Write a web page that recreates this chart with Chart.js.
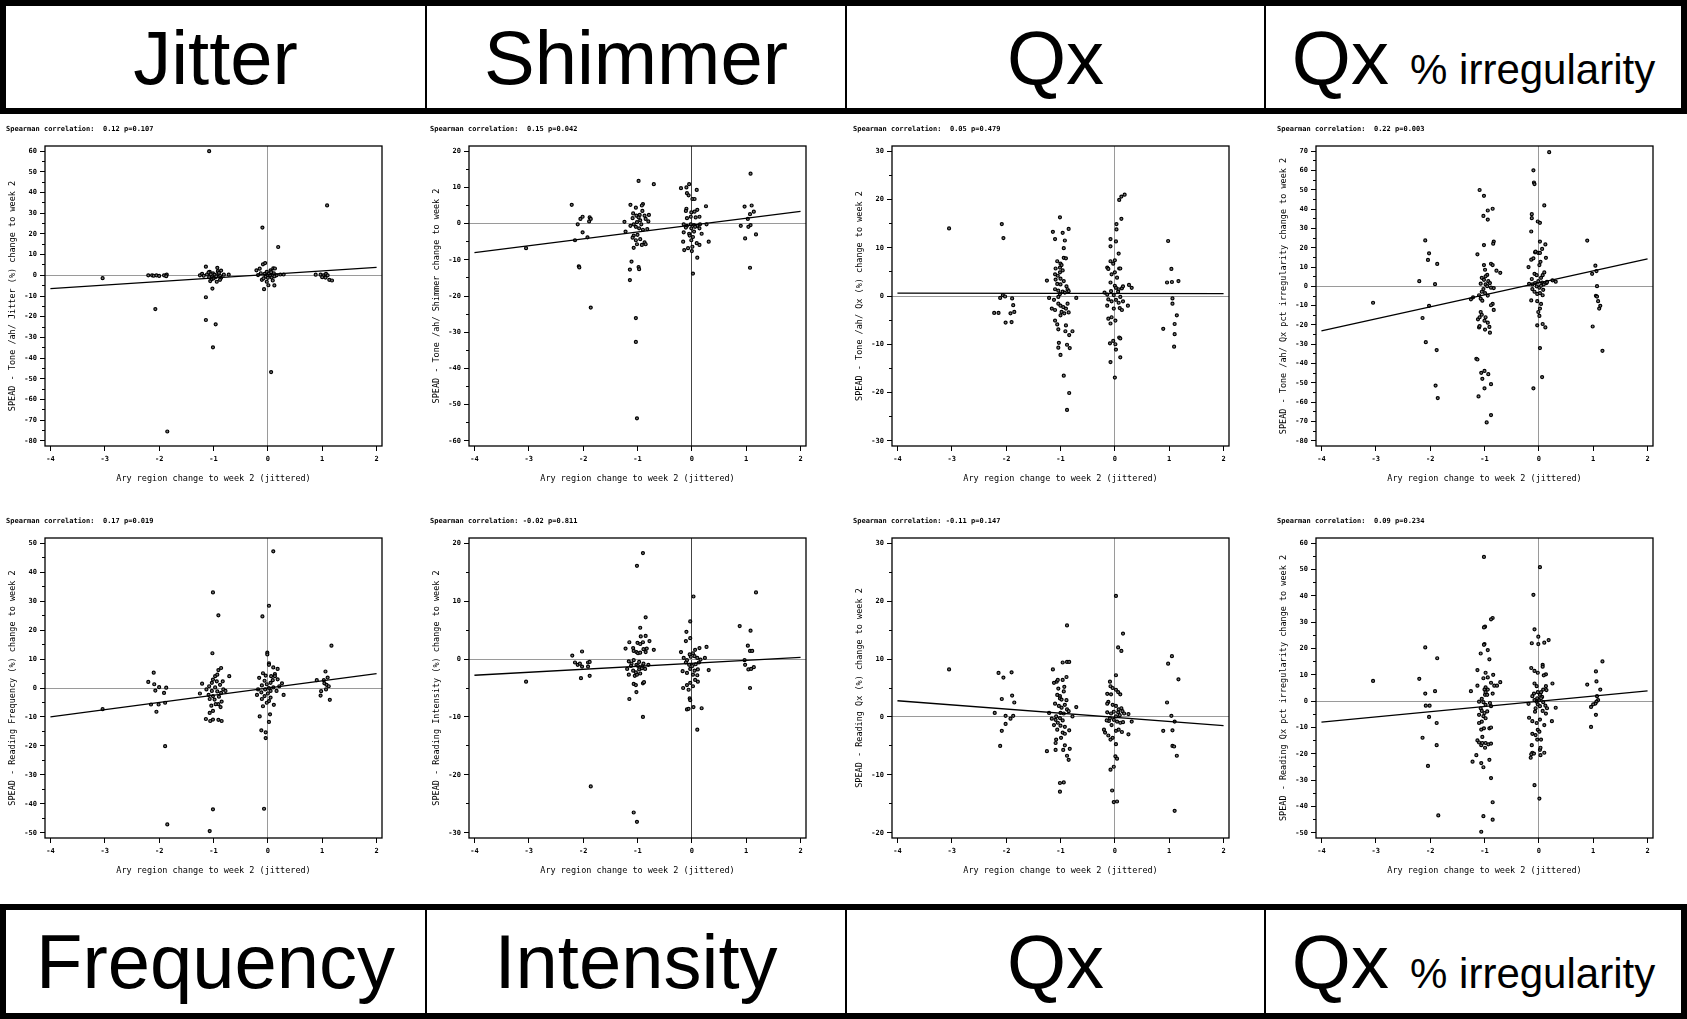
<!DOCTYPE html>
<html>
<head>
<meta charset="utf-8">
<script src="https://cdn.jsdelivr.net/npm/chart.js@4.4.1/dist/chart.umd.min.js"></script>
<style>
  html, body { margin: 0; padding: 0; background: #fff; }
  body { width: 1687px; height: 1019px; position: relative; overflow: hidden; }
  .band { position: absolute; left: 0; width: 1687px; box-sizing: border-box; border: 6px solid #000; display: flex; }
  .cell { box-sizing: border-box; height: 100%; display: flex; align-items: center; justify-content: center;
          font-family: "Liberation Sans", Arial, sans-serif; font-size: 76px; color: #000; white-space: nowrap; }
  .cell + .cell { border-left: 2px solid #000; }
  .small { font-size: 42px; }
  canvas { position: absolute; }
</style>
</head>
<body>
<div class="band" style="top:0;height:114px">
  <div class="cell" style="width:419px">Jitter</div>
  <div class="cell" style="width:420px">Shimmer</div>
  <div class="cell" style="width:419px">Qx</div>
  <div class="cell" style="flex:1"><span>Qx <span class="small">% irregularity</span></span></div>
</div>
<div class="band" style="top:904px;height:115px">
  <div class="cell" style="width:419px">Frequency</div>
  <div class="cell" style="width:420px">Intensity</div>
  <div class="cell" style="width:419px">Qx</div>
  <div class="cell" style="flex:1"><span>Qx <span class="small">% irregularity</span></span></div>
</div>

<canvas id="c0" width="420" height="372"></canvas>
<canvas id="c1" width="420" height="372"></canvas>
<canvas id="c2" width="420" height="372"></canvas>
<canvas id="c3" width="420" height="372"></canvas>
<canvas id="c4" width="420" height="372"></canvas>
<canvas id="c5" width="420" height="372"></canvas>
<canvas id="c6" width="420" height="372"></canvas>
<canvas id="c7" width="420" height="372"></canvas>

<script>
const MONO = '"DejaVu Sans Mono", "Liberation Mono", monospace';

// x axis is shared by all eight panels
const xTicks = [-4, -3, -2, -1, 0, 1, 2];
const xTitle = 'Ary region change to week 2 (jittered)';

// ---- Tone /ah/ Jitter ----
const jitterTicks = [-80, -70, -60, -50, -40, -30, -20, -10, 0, 10, 20, 30, 40, 50, 60];
const jitterFit = [-6.4, 3.8];
const jitterPts = [
  [-1.08,60],[1.09,33.8],[-0.10,23.1],[0.19,13.7],[-3.04,-1.4],[-2.07,-16.3],[-1.14,-10.6],[-1.14,-21.6],
  [-0.96,-23.7],[-1.01,-34.8],[0.06,-46.8],[-1.85,-75.5],[-1.02,-6.4],[-0.07,-6.7],[0.12,-4.9],
  [-2.2,0],[-2.13,0],[-2.1,-0.2],[-2.05,0],[-2.0,-0.3],[-1.91,0],[-1.86,0.3],[-1.87,-0.4],
  [-1.25,0],[-1.21,0.7],[-1.14,4.2],[-0.93,3.6],[-0.86,2.3],[-0.92,2],[-1.07,1.7],[-1.01,0.9],[-1.12,0.4],
  [-1.03,-0.2],[-0.97,-0.9],[-0.88,-0.2],[-0.81,0.3],[-0.72,0.3],[-1.06,-2.8],[-0.94,-3.1],[-1.03,-1.8],
  [-0.86,-1.2],[-1.08,-0.9],[-0.98,0.3],[-0.91,0.7],[-1.18,-0.2],[-1.09,1.4],[-0.88,-2.2],[-1.05,0.5],
  [-0.95,-0.5],[-1.0,-1.5],[-0.9,1.2],
  [-0.21,2.4],[-0.15,3.2],[-0.09,5.3],[-0.05,5.9],[-0.13,1.0],[-0.02,1.7],[0.05,2.4],[0.10,3.4],[0.13,3.3],
  [0.04,0],[-0.04,-0.6],[-0.11,-2.2],[-0.02,-3.1],[0.01,-4.8],[0.07,-1.1],[0.16,0],[0.23,0.4],[0.29,0.4],
  [0,-1.2],[0.11,1],[-0.06,0.7],[-0.18,0.1],[0.09,-2.5],[0.02,0.8],[-0.08,-1.5],[0.12,-0.5],[0.06,1.5],
  [0.88,0.3],[0.97,0.3],[1.02,0],[1.07,0.7],[1.10,0],[1.06,-1.1],[1.13,-2.2],[1.18,-2.5],[1.0,-0.9]
];

// ---- Tone /ah/ Shimmer ----
const shimmerTicks = [-60, -50, -40, -30, -20, -10, 0, 10, 20];
const shimmerFit = [-8.0, 3.4];
const shimmerPts = [
  [-0.98,11.8],[-0.70,10.9],[1.08,13.8],[-2.21,5.2],[-3.05,-6.8],[-1.86,-23.2],[-1.03,-26.1],[-1.03,-32.7],
  [-1.01,-53.8],[-2.08,-11.8],[-2.07,-12.1],[-1.14,-15.6],[-1.14,-12.7],[-1.11,-10.5],[-0.98,-12],[-0.97,-12.6],
  [1.07,-12.2],[0.02,-13.8],[0.10,-9.4],[-2.15,-4.6],[-1.92,-3.8],[-2.01,-2.4],[-2.10,-0.2],[-2.05,1.3],
  [-2.01,1.9],[-1.89,0.6],[-1.88,1.7],[-1.86,1.3],
  [-1.13,5.2],[-1.03,4.4],[-0.90,5.4],[-0.92,5.0],[-1.08,2.8],[-1.02,2.2],[-0.96,2.4],[-0.91,3.5],[-0.87,2.2],
  [-0.79,2.4],[-0.85,1.3],[-1.09,1.5],[-0.95,0.9],[-1.01,0.4],[-1.07,-0.2],[-1.13,-0.6],[-1.03,-0.9],[-0.97,-1.3],
  [-0.90,-1.7],[-0.82,-1.5],[-1.22,-2.2],[-1.07,-3.3],[-1.0,-3.1],[-1.09,-3.9],[-1.03,-4.6],[-0.95,-4.3],
  [-0.87,-5.2],[-1.01,-5.7],[-0.92,-5.9],[-0.85,-5.7],[-1.07,-6.7],[-1.24,0.5],[-0.80,0.6],[-0.93,-0.2],[-0.98,1.7],
  [-0.20,9.8],[-0.10,10.0],[-0.05,10.9],[-0.09,8.4],[-0.06,7.8],[0.09,9.3],[0.01,6.8],[0.05,6.8],[-0.10,4.1],
  [-0.11,3.5],[0.10,3.8],[0.26,4.8],[-0.01,3.1],[0.05,3.3],[-0.09,1.5],[-0.02,1.9],[0.07,1.7],[0.14,1.9],
  [-0.15,-0.2],[-0.09,-0.6],[-0.02,-0.2],[0.04,-0.4],[0.10,-0.6],[0.15,-0.2],[-0.11,-1.1],[-0.01,-1.3],
  [0.06,-0.9],[0.14,-1.3],[-0.15,-2.4],[-0.05,-2.8],[0.04,-2.2],[0.18,-2.8],[-0.04,-3.3],[0.02,-3.7],
  [-0.16,-5.0],[-0.01,-4.6],[0.09,-5.4],[0.14,-5.9],[0.31,-5.0],[0.27,-0.2],[-0.14,-7.3],[-0.07,-6.8],
  [0,-7.6],[0.01,-6.4],
  [0.97,4.7],[1.10,5.0],[1.14,3.3],[1.07,2.6],[1.03,1.3],[0.90,-0.6],[1.08,-0.4],[1.04,-0.9],[1.18,-3.0],[0.98,-4.1]
];

// ---- Tone /ah/ Qx ----
const toneQxTicks = [-30, -20, -10, 0, 10, 20, 30];
const toneQxFit = [0.6, 0.5];
const toneQxPts = [
  [-3.05,14.0],[-2.08,14.9],[-2.05,12.0],[-2.11,-0.4],[-2.06,0.2],[-2.02,-0.1],[-2.22,-3.5],[-2.14,-3.5],
  [-2.01,-5.5],[-1.92,-3.6],[-1.85,-3.3],[-1.90,-5.4],[-1.89,-0.5],[-1.87,-1.9],
  [-1.01,16.3],[-1.14,13.3],[-0.96,13.1],[-0.85,13.9],[-1.10,11.8],[-0.92,11.5],[-0.94,9.9],[-0.94,7.9],
  [-0.90,7.8],[-1.06,7.2],[-1.0,6.7],[-0.98,6.4],[-1.01,5.9],[-1.09,5.7],[-0.96,5.3],[-1.01,4.9],[-1.10,4.5],
  [-1.05,4.2],[-1.0,3.6],[-1.25,3.2],[-1.09,3.4],[-0.94,3.1],[-1.06,2.5],[-1.0,2.4],[-0.89,2.0],[-0.87,1.4],
  [-1.04,1.1],[-0.96,0.9],[-0.92,0.7],[-1.01,0.4],[-1.10,1.4],[-0.85,1.0],[-1.21,-0.4],[-1.12,-0.8],
  [-1.04,-0.2],[-0.87,-1.6],[-0.71,-0.4],[-1.04,-1.6],[-1.0,-2.0],[-0.95,-2.3],[-0.90,-2.6],[-0.98,-3.3],
  [-1.10,-2.9],[-1.16,-2.6],[-1.0,-4.0],[-0.93,-3.6],[-0.85,-3.4],[-1.10,-5.1],[-1.06,-5.9],[-1.04,-6.9],
  [-0.90,-6.1],[-0.91,-7.3],[-0.78,-7.3],[-0.84,-8.1],[-1.03,-9.7],[-1.04,-10.7],[-1.0,-12.2],[-0.88,-10.1],
  [-0.83,-10.8],[-0.94,-16.5],[-0.84,-20.1],[-0.88,-23.6],
  [0.18,21.0],[0.12,20.6],[0.08,19.9],[0.12,16.0],[0.03,14.9],[0.03,13.8],[-0.08,11.8],[0.02,11.3],
  [-0.08,10.3],[0.07,8.8],[-0.08,7.2],[0,7.4],[-0.03,6.7],[-0.14,5.9],[-0.12,5.6],[0.08,5.7],[0.10,5.7],
  [0,4.9],[-0.06,4.5],[0.04,3.8],[-0.08,2.8],[0,2.1],[0.02,1.7],[0.07,1.4],[0.13,1.6],[0.15,2.0],[0.26,2.3],
  [0.31,1.7],[-0.19,0.7],[-0.14,0.3],[-0.07,1.0],[-0.02,0.2],[0.06,0.9],[0.10,-0.2],[-0.12,-0.7],[-0.06,-1.1],
  [0.02,-0.8],[0.07,-1.4],[0.15,-1.1],[-0.14,-2.0],[-0.02,-2.6],[0.09,-2.5],[0.13,-2.9],[0.24,-2.0],
  [-0.12,-4.7],[-0.06,-4.4],[0.01,-5.1],[-0.08,-5.7],[-0.03,-9.3],[0.01,-10.0],[-0.09,-9.8],[0.08,-8.6],
  [0.10,-8.8],[0.02,-11.1],[0.10,-12.7],[-0.08,-13.7],[0,-16.9],
  [0.98,11.4],[1.04,5.6],[0.96,2.8],[1.05,2.9],[1.17,3.1],[1.06,-0.5],[1.06,-1.6],[1.14,-4.0],[1.10,-5.8],
  [0.89,-6.8],[1.10,-7.9],[1.09,-10.5]
];

// ---- Tone /ah/ Qx pct irregularity ----
const toneIrrTicks = [-80, -70, -60, -50, -40, -30, -20, -10, 0, 10, 20, 30, 40, 50, 60, 70];
const toneIrrFit = [-23.1, 14.2];
const toneIrrPts = [
  [0.19,69.5],[-0.10,60.1],[-0.09,53.8],[-0.08,53.0],[0.10,41.9],[-1.09,49.9],[-1.01,46.9],[-1.02,36.5],
  [-0.94,39.3],[-0.85,40.2],[-0.94,34.6],[-0.13,37.4],[-0.13,35.3],[-0.02,33.6],[0.02,32.9],[-0.14,28.4],
  [0.89,23.7],[-2.09,23.8],[-2.02,17.1],[-2.04,13.7],[-1.87,11.6],[-2.20,2.7],[-1.91,1.1],[-3.05,-8.5],
  [-2.02,-10.1],[-2.14,-16.4],[-2.08,-28.9],[-1.88,-33.0],[-1.90,-51.4],[-1.86,-57.9],
  [-1.15,-37.5],[-1.13,-37.9],[-1.06,-44.8],[-1.0,-43.8],[-0.93,-45.5],[-1.04,-47.9],[-0.88,-50.7],
  [-1.0,-52.8],[-1.11,-57.0],[-0.88,-66.7],[-0.96,-70.5],
  [-1.01,21.4],[-0.83,23.2],[-0.84,22.1],[-1.13,16.6],[-1.01,11.0],[-0.88,11.7],[-0.85,11.0],[-0.99,8.6],
  [-0.78,8.1],[-0.71,7.0],[-0.95,5.9],[-0.98,5.2],[-1.05,4.4],[-1.01,3.4],[-0.93,2.7],[-0.90,1.7],[-0.98,1.0],
  [-0.95,0.1],[-1.07,1.4],[-0.88,-0.7],[-0.83,-0.9],[-1.02,-1.4],[-1.05,-2.8],[-0.99,-3.5],[-1.10,-4.6],
  [-0.94,-4.8],[-1.25,-6.7],[-1.21,-5.7],[-1.07,-6.4],[-1.04,-7.4],[-0.85,-9.1],[-0.88,-9.8],[-0.83,-12.2],
  [-1.07,-13.3],[-1.05,-14.7],[-0.98,-16.0],[-1.0,-17.8],[-0.94,-18.8],[-1.12,-17.1],[-1.09,-16.0],
  [-1.10,-21.3],[-1.09,-20.6],[-0.99,-22.4],[-0.91,-21.0],[-0.90,-24.0],
  [-0.19,10.0],[-0.14,13.8],[-0.10,14.5],[-0.07,17.6],[-0.06,18.0],[-0.01,17.3],[0.02,17.3],[0.03,12.7],
  [0.01,11.0],[0.02,23.2],[0.06,19.4],[0.12,21.7],[0.13,14.8],[-0.08,6.5],[-0.04,5.8],[0.07,5.8],[0.10,7.2],
  [-0.13,3.8],[-0.07,1.7],[-0.01,2.7],[-0.18,1.3],[-0.12,1.0],[0.04,4.4],[0.06,2.0],[0.09,1.0],[0.14,1.7],
  [0.15,2.3],[0.25,3.1],[0.31,2.4],[-0.04,0],[0.01,-0.7],[0.04,0.3],[0.08,-1.8],[-0.12,-1.4],[-0.08,-2.8],
  [-0.03,-3.9],[0.02,-3.5],[0.07,-4.6],[-0.14,-7.3],[-0.03,-7.7],[0.04,-9.1],[0.02,-11.5],[-0.01,-13.3],
  [0.01,-15.3],[-0.03,-20.2],[0.07,-19.5],[0.12,-21.3],[0.02,-32.0],[0.06,-47.0],[-0.10,-52.8],
  [1.04,10.7],[1.06,7.9],[0.98,6.5],[1.07,0.1],[1.05,-4.9],[1.07,-5.3],[1.09,-7.7],[1.13,-10.1],[1.11,-11.5],
  [0.99,-20.8],[1.17,-33.4]
];

// ---- Reading Frequency ----
const freqTicks = [-50, -40, -30, -20, -10, 0, 10, 20, 30, 40, 50];
const freqFit = [-10.0, 5.0];
const freqPts = [
  [0.10,47.2],[-1.01,33.0],[-0.91,25.1],[0.02,28.4],[-0.10,24.7],[1.17,14.6],[-1.02,12.0],[-0.01,12.2],
  [-0.01,11.6],[-1.89,-20.1],[-1.01,-41.9],[-0.07,-41.7],[-1.85,-47.1],[-1.07,-49.4],[-0.04,-17.3],
  [-0.12,-14.6],[-0.04,-15.3],[0.02,-11.7],[-0.15,-9.8],[0.04,-9.1],
  [-1.14,-10.7],[-1.06,-11.4],[-1.01,-10.9],[-0.91,-11.0],[-0.85,-11.4],[-1.07,-8.6],[-1.01,-7.9],
  [-3.04,-7.3],[-2.05,-8.2],[-2.15,-5.7],[-2.01,-5.7],[-1.89,-5.1],[-2.10,5.3],[-2.20,2.1],[-2.09,1.3],
  [-2.07,-0.9],[-2.0,0.3],[-1.91,-1.7],[-1.87,0.1],
  [-1.21,1.5],[-1.25,-1.9],[-1.08,0.6],[-1.03,1.8],[-1.01,2.9],[-0.97,4.1],[-0.93,4.6],[-0.91,6.2],[-0.86,6.9],
  [-0.94,2.3],[-0.88,1.1],[-0.97,0.2],[-1.03,-1.0],[-1.09,-2.4],[-1.01,-2.8],[-0.93,-1.2],[-0.86,-1.7],
  [-0.82,-0.5],[-0.90,-3.0],[-1.07,-3.8],[-0.98,-4.0],[-0.91,-5.6],[-0.85,-4.7],[-1.13,-0.5],[-0.83,2.3],
  [-0.71,4.1],[-0.78,-1.0],[-0.96,-5.6],[-1.04,-6.1],[-0.87,-6.6],
  [-0.09,5.1],[-0.04,4.3],[-0.16,3.5],[-0.06,2.5],[0.02,8.5],[0.02,8.0],[0.10,7.1],[0.18,6.6],[0.13,4.8],
  [0.06,4.1],[0.13,4.1],[0.26,1.6],[0.21,0.6],[0.05,1.8],[-0.02,1.3],[-0.11,0.9],[-0.20,-2.4],[-0.12,-1.5],
  [-0.05,-0.5],[0.02,0],[0.10,0.2],[0.16,-1.0],[0.0,-1.9],[-0.06,-2.8],[0.05,-3.3],[-0.02,-5.1],[-0.09,-6.3],
  [0.02,-4.5],[0.11,-5.8],[0.29,-2.4],[0.05,-1.0],[-0.18,-0.5],[0.09,2.7],[0.18,3.0],[-0.11,-3.8],
  [0.90,2.7],[1.06,5.7],[1.10,3.6],[1.03,2.7],[1.04,1.6],[1.08,1.1],[1.12,0.6],[1.07,-0.5],[0.98,-1.1],
  [0.97,-2.6],[1.14,-4.1]
];

// ---- Reading Intensity ----
const intensTicks = [-30, -20, -10, 0, 10, 20];
const intensFit = [-2.8, 0.3];
const intensPts = [
  [-0.90,18.3],[-1.01,16.1],[1.18,11.5],[0.03,10.8],[-0.85,7.2],[-0.03,6.5],[0.88,5.7],[-0.95,5.4],[1.08,4.9],
  [-0.10,4.7],[-0.85,4.0],[-0.94,3.9],[-0.03,3.6],[-0.78,3.1],[-0.11,3.1],[-1.15,2.9],[-1.0,2.8],[-0.95,2.6],
  [-0.90,2.9],[-1.22,1.8],[-1.08,1.9],[-1.07,1.4],[-1.02,1.2],[-0.99,1.0],[-0.95,1.1],[-0.89,1.7],[-0.83,1.8],
  [-0.85,1.2],[-0.70,1.6],
  [-2.20,0.6],[-2.02,1.3],[-2.15,-0.6],[-2.10,-1.0],[-2.06,-0.8],[-2.02,-1.3],[-1.91,-0.6],[-1.88,-0.5],
  [-1.91,-1.3],[-2.04,-3.3],[-1.88,-2.9],[-3.05,-3.9],[-1.86,-22.0],[-1.07,-26.5],[-1.01,-28.1],[-0.90,-10.0],
  [-1.15,-6.9],[-1.02,-5.7],[-1.07,-4.3],[-1.03,-4.5],[-0.90,-4.2],[-0.88,-4.0],
  [-1.16,-2.7],[-1.05,-2.9],[-1.01,-2.7],[-0.95,-2.5],[-1.08,-2.0],[-0.97,-1.8],[-0.91,-1.2],[-0.86,-1.7],
  [-1.02,-1.0],[-1.11,-0.8],[-1.16,-0.4],[-1.07,-0.2],[-0.97,-0.5],[-0.89,-0.8],[-0.80,-1.0],[-1.19,-1.7],
  [-1.12,-1.2],[-0.99,-1.2],[-0.92,-1.6],[-1.03,-2.3],
  [-0.20,1.2],[0.06,1.6],[0.14,1.9],[0.27,2.1],[0.24,0.2],[-0.15,0.2],[-0.09,-0.2],[-0.02,0.4],[0.05,0.5],
  [0.10,0.2],[0.16,-0.1],[0.02,1.0],[-0.04,0.8],[-0.11,-0.6],[-0.05,-1.0],[0.01,-1.2],[0.07,-0.9],[0.13,-0.6],
  [-0.03,-1.7],[0.05,-2.0],[0.11,-1.8],[-0.09,-2.4],[-0.17,-2.1],[0.02,-2.7],[0.10,-2.8],[0.31,-1.9],
  [-0.16,-5.0],[-0.09,-4.5],[-0.03,-4.1],[0.06,-3.6],[0.11,-3.9],[0.02,-4.7],[-0.06,-5.3],[-0.04,-6.8],
  [-0.03,-7.1],[-0.09,-8.7],[-0.06,-8.6],[0.03,-8.3],[0.18,-8.5],[0.10,-12.2],
  [1.03,2.3],[1.07,1.4],[1.11,1.4],[0.97,-0.2],[0.98,-1.0],[1.04,-1.8],[1.09,-1.7],[1.14,-1.4],[1.07,-5.0]
];

// ---- Reading Qx ----
const readQxTicks = [-20, -10, 0, 10, 20, 30];
const readQxFit = [2.8, -1.5];
const readQxPts = [
  [0.02,20.9],[-0.88,15.8],[0.15,14.4],[0.06,12.0],[0.12,11.4],[1.05,10.5],[0.98,9.2],[-0.96,9.4],[-0.88,9.5],
  [-0.84,9.5],[-3.05,8.2],[-1.14,8.2],[-2.14,7.6],[-1.90,7.7],[-2.05,6.8],[1.17,6.5],[-0.89,6.9],[-0.96,6.4],
  [0.02,7.2],[-1.12,5.9],[-1.07,6.1],[-1.05,6.4],[-0.09,6.1],[-0.08,5.3],[-0.04,5.0],[0.02,4.7],
  [-0.93,5.2],[-0.94,4.4],[-1.04,4.9],[-1.06,3.8],[-1.01,3.6],[-1.01,3.2],[-0.98,3.0],[-0.14,4.0],[-0.07,3.9],
  [0.06,4.3],[0.10,3.9],[-2.08,3.1],[-1.89,3.7],[-1.85,2.5],[0.96,2.5],[-0.89,2.9],
  [-1.10,2.3],[-1.03,1.9],[-0.98,1.6],[-0.92,2.1],[-0.88,1.3],[-0.85,1.0],[-0.94,0.6],[-1.00,0.7],[-1.08,0.1],
  [-1.01,-0.2],[-0.96,-0.6],[-1.09,-0.5],[-1.16,-0.3],[-1.21,0.7],[-1.05,-1.0],[-1.00,-1.5],[-0.92,-1.7],
  [-0.84,-2.3],[-1.12,-1.4],[-1.06,-2.2],[-0.96,-2.7],[-0.92,-2.9],[-1.08,-3.9],[-0.99,-3.6],[-1.09,-4.5],
  [-0.92,-4.9],[-0.83,-5.5],[-0.88,-6.7],[-0.85,-7.4],[-0.95,-5.7],[-1.09,-5.7],[-1.25,-5.9],[-0.71,1.7],
  [-0.78,0.1],[-1.01,-11.4],[-0.94,-11.3],[-1.01,-12.9],
  [-2.21,0.7],[-2.01,0.2],[-1.87,0.2],[-1.92,-0.3],[-2.01,-1.2],[-2.08,-2.4],[-2.11,-5.0],
  [-0.12,2.6],[-0.14,2.3],[-0.04,2.1],[0.02,1.9],[0.07,1.3],[0.12,1.5],[0.14,1.0],[0.06,0.8],[-0.02,0.9],
  [-0.07,0.6],[-0.14,0.8],[0.02,0.1],[0.09,0.3],[0.17,0.6],[0.25,0.5],[-0.09,-0.2],[-0.02,-0.5],[0.04,-0.8],
  [0.10,-1.0],[0.15,-0.9],[-0.06,-1.4],[-0.11,-0.7],[-0.20,-2.2],[-0.18,-2.7],[-0.12,-3.2],[-0.04,-3.6],
  [0.02,-2.4],[0.07,-2.2],[0.25,-3.0],[0.31,-0.8],[-0.08,-3.9],[0.02,-4.7],[0.01,-6.8],[0.04,-7.2],
  [-0.02,-8.6],[-0.08,-9.1],[-0.05,-12.7],[-0.02,-14.7],[0.04,-14.6],[-0.15,-0.6],[0.13,-2.6],
  [1.04,0.2],[1.10,-0.8],[0.89,-2.4],[1.06,-2.3],[1.06,-5.0],[1.09,-5.1],[1.14,-6.7],[1.10,-16.2]
];

// ---- Reading Qx pct irregularity ----
const readIrrTicks = [-50, -40, -30, -20, -10, 0, 10, 20, 30, 40, 50, 60];
const readIrrFit = [-8.0, 3.9];
const readIrrPts = [
  [-1.01,54.8],[0.02,50.9],[-0.10,40.4],[-0.85,31.6],[-0.88,31.1],[-0.99,28.3],[-1.01,28.0],[-0.08,27.3],
  [-0.01,24.5],[0.18,23.2],[-0.13,22.0],[-0.01,21.7],[0.10,22.2],[-1.0,21.7],[-1.01,21.4],[-2.09,20.4],
  [-0.94,19.4],[-1.87,16.3],[-1.07,18.1],[-0.91,15.9],[1.17,15.1],[0.07,13.8],[0.07,13.1],[-0.14,12.6],
  [-1.13,11.8],[1.05,11.3],[-0.08,11.5],[-0.98,10.8],[-0.84,10.0],[0.13,10.2],[0.09,9.8],[-2.20,8.5],
  [-1.02,8.7],[-0.02,10.8],[-0.94,9.0],[-0.71,7.2],[1.06,7.5],[0.89,6.3],[-0.88,7.0],[-0.82,5.9],[-0.77,5.9],
  [0.25,6.7],[-1.13,5.9],[-0.98,5.2],[-0.94,4.4],[-1.00,4.4],[-0.98,3.4],[-0.99,2.4],[-0.95,2.4],[-1.25,3.8],
  [-1.91,3.8],[-2.09,2.9],[1.13,4.4],[-0.85,2.9],
  [-0.08,6.7],[-0.04,5.7],[-0.02,3.4],[0.04,3.4],[0.13,5.7],[0.08,4.4],[0.02,2.4],[-0.09,2.9],[-0.12,1.9],
  [-0.03,1.1],[0.06,1.6],[0.14,4.2],
  [-1.05,0.9],[-1.10,-0.2],[-1.02,-0.4],[-0.90,-0.7],[-0.88,-1.9],[-0.98,-1.4],[-1.07,-2.7],[-1.05,-3.7],
  [-1.0,-4.5],[-0.95,-3.9],[-1.10,-5.2],[-1.02,-5.7],[-0.98,-6.5],[-1.05,-7.8],[-1.10,-8.3],[-0.91,-10.3],
  [-0.88,-10.0],[-1.01,-10.3],[-1.06,-10.8],
  [-2.08,-1.7],[-2.01,-1.7],[-2.02,-6.0],[-1.88,-8.3],[-2.14,-13.9],[-1.88,-16.7],[-2.04,-24.6],[-1.85,-43.4],
  [-3.05,7.7],
  [-1.13,-14.9],[-1.10,-15.7],[-1.06,-16.7],[-1.04,-15.9],[-0.98,-15.9],[-0.99,-17.7],[-0.93,-16.4],
  [-0.88,-16.1],[-1.04,-13.6],[-1.15,-20.5],[-1.22,-23.0],[-1.06,-23.5],[-1.02,-25.1],[-0.91,-22.3],
  [-0.88,-29.2],[-0.85,-38.4],[-1.02,-43.7],[-0.85,-45.0],[-1.06,-49.6],
  [-0.19,-1.0],[-0.08,0.4],[-0.04,-0.2],[0.01,0.4],[0.04,1.1],[0.08,-0.4],[-0.02,-1.2],[0.02,-1.9],[-0.06,-2.7],
  [0.12,-1.7],[0.15,-2.7],[0.07,-3.7],[0.13,-4.7],[-0.07,-4.0],[-0.18,-6.3],[0.31,-2.5],[0.24,-7.6],
  [-0.12,-7.6],[-0.04,-8.3],[0.02,-7.0],[0.10,-9.1],[-0.02,-10.9],[0.01,-11.6],[-0.12,-12.4],[-0.06,-12.9],
  [0.04,-14.6],[-0.03,-14.6],[-0.13,-16.7],[0.02,-18.5],[0.03,-17.7],[-0.12,-19.6],[-0.14,-20.2],
  [-0.09,-19.9],[0.10,-19.6],[0.03,-20.5],[-0.15,-21.5],[-0.08,-31.9],[0.01,-37.0],
  [0.96,-2.2],[1.09,0.4],[1.07,1.9],[1.06,-0.2],[1.04,-0.9],[1.0,-1.2],[1.05,-5.2],[0.96,-9.8]
];

const panels = [
  { pts: jitterPts, fit: jitterFit, yTicks: jitterTicks,
    stat: 'Spearman correlation:  0.12 p=0.107', yTitle: 'SPEAD - Tone /ah/ Jitter (%) change to week 2' },
  { pts: shimmerPts, fit: shimmerFit, yTicks: shimmerTicks,
    stat: 'Spearman correlation:  0.15 p=0.042', yTitle: 'SPEAD - Tone /ah/ Shimmer change to week 2' },
  { pts: toneQxPts, fit: toneQxFit, yTicks: toneQxTicks,
    stat: 'Spearman correlation:  0.05 p=0.479', yTitle: 'SPEAD - Tone /ah/ Qx (%) change to week 2' },
  { pts: toneIrrPts, fit: toneIrrFit, yTicks: toneIrrTicks,
    stat: 'Spearman correlation:  0.22 p=0.003', yTitle: 'SPEAD - Tone /ah/ Qx pct irregularity change to week 2' },
  { pts: freqPts, fit: freqFit, yTicks: freqTicks,
    stat: 'Spearman correlation:  0.17 p=0.019', yTitle: 'SPEAD - Reading Frequency (%) change to week 2' },
  { pts: intensPts, fit: intensFit, yTicks: intensTicks,
    stat: 'Spearman correlation: -0.02 p=0.811', yTitle: 'SPEAD - Reading Intensity (%) change to week 2' },
  { pts: readQxPts, fit: readQxFit, yTicks: readQxTicks,
    stat: 'Spearman correlation: -0.11 p=0.147', yTitle: 'SPEAD - Reading Qx (%) change to week 2' },
  { pts: readIrrPts, fit: readIrrFit, yTicks: readIrrTicks,
    stat: 'Spearman correlation:  0.09 p=0.234', yTitle: 'SPEAD - Reading Qx pct irregularity change to week 2' }
];

// canvas placement and the colour of the x=0 reference line
const panelPos = [[0, 118], [424, 118], [847, 118], [1271, 118], [0, 510], [424, 510], [847, 510], [1271, 510]];
const vZeroColor = ['#9a9a9a', '#444', '#9a9a9a', '#9a9a9a', '#9a9a9a', '#444', '#9a9a9a', '#9a9a9a'];

// box round the plot area
const framePlugin = {
  id: 'frame',
  afterDatasetsDraw(chart) {
    const { ctx, chartArea: a } = chart;
    ctx.save();
    ctx.strokeStyle = '#000';
    ctx.lineWidth = 1.3;
    ctx.strokeRect(a.left, a.top, a.right - a.left, a.bottom - a.top);
    ctx.restore();
  }
};

Chart.defaults.font.family = MONO;

function makePanel(p, i) {
  const cv = document.getElementById('c' + i);
  cv.style.left = panelPos[i][0] + 'px';
  cv.style.top = panelPos[i][1] + 'px';

  const lo = p.yTicks[0];
  const hi = p.yTicks[p.yTicks.length - 1];
  const step = p.yTicks[1] - p.yTicks[0];
  const pad = (hi - lo) * 0.018;
  const zeroH = '#9a9a9a';

  new Chart(cv, {
    type: 'scatter',
    data: {
      datasets: [
        {
          type: 'line',
          data: [{ x: xTicks[0], y: p.fit[0] }, { x: xTicks[xTicks.length - 1], y: p.fit[1] }],
          borderColor: '#000',
          borderWidth: 1.3,
          pointRadius: 0,
          order: 0
        },
        {
          data: p.pts.map(([x, y]) => ({ x, y })),
          pointRadius: 1.5,
          pointBorderWidth: 1.2,
          borderColor: '#000',
          backgroundColor: '#777',
          order: 1
        }
      ]
    },
    options: {
      responsive: false,
      animation: false,
      layout: { padding: { left: 6, right: 38, top: 0, bottom: 0 } },
      plugins: {
        legend: { display: false },
        tooltip: { enabled: false },
        title: {
          display: true,
          text: p.stat,
          align: 'start',
          color: '#000',
          font: { family: MONO, size: 7, weight: 'bold', lineHeight: 1 },
          padding: { top: 7.5, bottom: 13.5 }
        }
      },
      scales: {
        x: {
          type: 'linear',
          min: -4.1,
          max: 2.1,
          afterBuildTicks: ax => { ax.ticks = xTicks.map(v => ({ value: v })); },
          afterFit: ax => { ax.height = 44; },
          ticks: {
            autoSkip: false, maxRotation: 0, color: '#000', padding: 4,
            font: { family: MONO, size: 7, weight: 'bold' },
            callback: v => String(v)
          },
          grid: {
            drawOnChartArea: true,
            color: c => (c.tick && c.tick.value === 0 ? vZeroColor[i] : 'rgba(0,0,0,0)'),
            tickColor: '#000',
            tickLength: 5
          },
          border: { display: false },
          title: {
            display: true, text: xTitle, color: '#000',
            font: { family: MONO, size: 8.5, lineHeight: 1 },
            padding: { top: 0, bottom: 6.75 }
          }
        },
        y: {
          type: 'linear',
          min: lo - pad,
          max: hi + pad,
          afterBuildTicks: ax => {
            const t = [];
            for (let v = lo; v <= hi; v += step / 2) t.push({ value: v });
            ax.ticks = t;
          },
          afterFit: ax => { ax.width = 39; },
          ticks: {
            autoSkip: false, color: '#000', padding: 3,
            font: { family: MONO, size: 7, weight: 'bold' },
            callback: v => (v % step === 0 ? String(v) : '')
          },
          grid: {
            drawOnChartArea: true,
            color: c => (c.tick && c.tick.value === 0 ? zeroH : 'rgba(0,0,0,0)'),
            tickColor: '#000',
            tickLength: 5,
            tickBorderDash: c => (c.tick && c.tick.value % step !== 0 ? [0, 2, 3, 50] : [])
          },
          border: { display: false },
          title: {
            display: true, text: p.yTitle, color: '#000',
            font: { family: MONO, size: 8.5, lineHeight: 1 },
            padding: { top: 2.75, bottom: 0 }
          }
        }
      }
    },
    plugins: [framePlugin]
  });
}

panels.forEach(makePanel);
</script>
</body>
</html>
